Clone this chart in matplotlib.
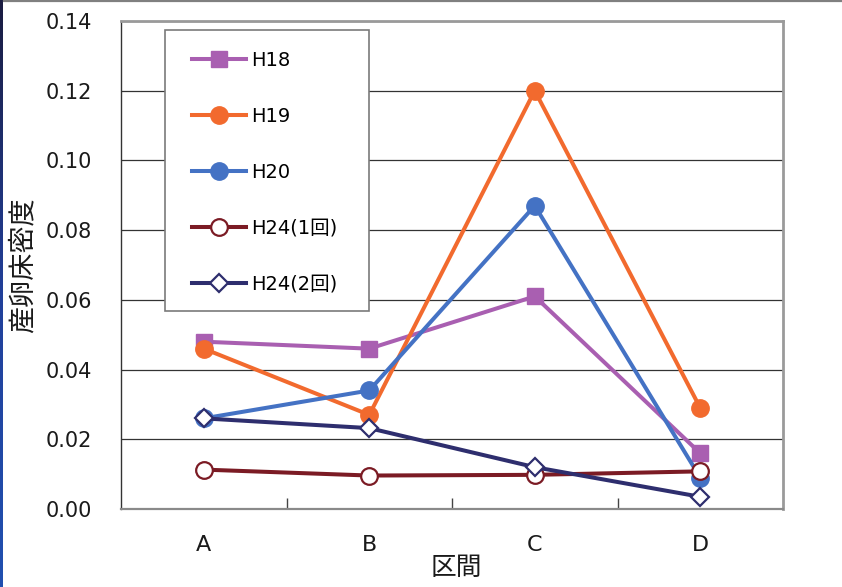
import numpy as np
import matplotlib
matplotlib.use("Agg")
import matplotlib.pyplot as plt
from matplotlib.lines import Line2D
from matplotlib.patches import Rectangle
from matplotlib.colors import LinearSegmentedColormap

plt.rcParams['font.family'] = ['DejaVu Sans', 'Noto Sans CJK JP']

# Sections along the river and spawning-bed density per survey
sections = ["A", "B", "C", "D"]
h18 = [0.048, 0.046, 0.061, 0.016]
h19 = [0.046, 0.027, 0.120, 0.029]
h20 = [0.026, 0.034, 0.087, 0.009]
h24_1 = [0.0113, 0.0096, 0.0098, 0.0108]
h24_2 = [0.026, 0.0232, 0.012, 0.0035]
series_labels = ["H18", "H19", "H20", "H24(1回)", "H24(2回)"]
y_ticks = [0.00, 0.02, 0.04, 0.06, 0.08, 0.10, 0.12, 0.14]

fig = plt.figure(figsize=(8.42, 5.87), dpi=100)
ax = fig.add_axes([121 / 842, 1 - 509 / 587, 662 / 842, 488 / 587])

x = np.arange(len(sections))
lw = 2.9
styles = [
    dict(color="#A95FB1", marker="s", ms=11.5, mfc="#A95FB1", mec="#A95FB1"),
    dict(color="#F26A2E", marker="o", ms=12.5, mfc="#F26A2E", mec="#F26A2E"),
    dict(color="#4472C4", marker="o", ms=12.5, mfc="#4472C4", mec="#4472C4"),
    dict(color="#7B1B24", marker="o", ms=12, mfc="white", mec="#7B1B24", mew=1.6),
    dict(color="#2E2E6E", marker="D", ms=9.5, mfc="white", mec="#2E2E6E", mew=1.6),
]
data = [h18, h19, h20, h24_1, h24_2]
handles = []
for vals, lab, st in zip(data, series_labels, styles):
    ln, = ax.plot(x, vals, lw=lw, label=lab, zorder=3, **st)
    handles.append(ln)

ax.set_xlim(-0.5, len(sections) - 0.5)
ax.set_ylim(0, 0.14)
ax.set_yticks(y_ticks)
ax.set_yticklabels([f"{v:.2f}" for v in y_ticks], fontsize=15, color="#1a1a1a")
ax.yaxis.set_tick_params(length=0, pad=21)
ax.set_xticks(x)
ax.set_xticklabels(sections, fontsize=16, color="#1a1a1a")
ax.xaxis.set_tick_params(length=0, pad=19)
ax.set_xticks(np.arange(0.5, len(sections) - 1), minor=True)
ax.xaxis.set_tick_params(which="minor", direction="in", length=8, width=1, color="#444444")

ax.grid(axis="y", color="#333333", lw=0.9, zorder=1)
ax.set_axisbelow(True)
for side in ["top", "right"]:
    ax.spines[side].set_color("#9a9a9a")
    ax.spines[side].set_linewidth(2)
ax.spines["left"].set_color("#333333")
ax.spines["left"].set_linewidth(1)
ax.spines["bottom"].set_color("#8a8a8a")
ax.spines["bottom"].set_linewidth(1.6)

ax.set_ylabel("産卵床密度", fontsize=19.5, color="#1a1a1a",
              family=["Noto Sans CJK JP"])
ax.yaxis.set_label_coords(-0.128, 0.5)
ax.set_xlabel("区間", fontsize=18.5, color="#1a1a1a", va="top",
              family=["Noto Sans CJK JP"])
ax.xaxis.set_label_coords(0.506, -0.094)

# legend box drawn separately, entries placed inside it
ax.add_patch(Rectangle((0.0665, 0.4057), 0.3081, 0.5759, transform=ax.transAxes,
                       facecolor="white", edgecolor="#7a7a7a", lw=1.2, zorder=4))
leg = ax.legend(handles=handles, loc="upper left",
                bbox_to_anchor=(0.1073, 0.9393), fontsize=14,
                frameon=False, borderpad=0, labelspacing=1.9,
                handlelength=2.75, handletextpad=0.3, borderaxespad=0)
leg.set_zorder(5)

# dark strip on the left edge
strip = fig.add_axes([0, 0, 3 / 842, 1])
grad = np.linspace(0, 1, 256).reshape(-1, 1)
cmap = LinearSegmentedColormap.from_list("edge", ["#1a1c40", "#22409a", "#2050b0"])
strip.imshow(grad, aspect="auto", cmap=cmap)
strip.set_axis_off()

# thin rule along the top edge
fig.add_artist(Line2D([4 / 842, 1], [1 - 0.8 / 587, 1 - 0.8 / 587],
                      transform=fig.transFigure, color="#808080", lw=1.6))

fig.savefig("out.png", dpi=100)
